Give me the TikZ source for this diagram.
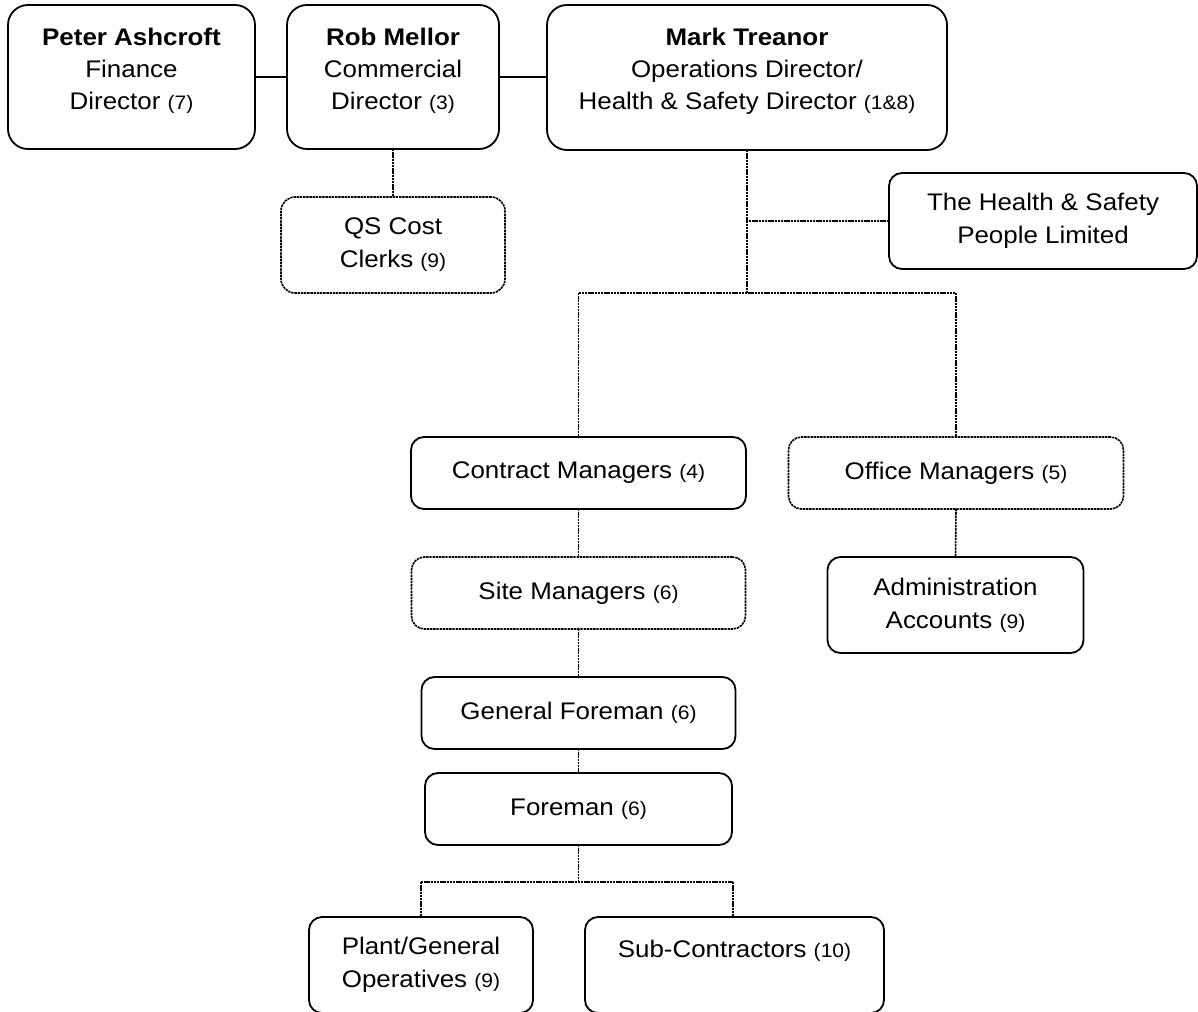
\documentclass[tikz,border=0pt]{standalone}
\usepackage{fontspec}
\setmainfont{Liberation Sans}[FakeStretch=1.08]
\newcommand{\pn}[1]{{\fontsize{19.5}{33}\selectfont #1}}
\begin{document}
\begin{tikzpicture}[x=1pt,y=-1pt,
  box/.style={draw, rounded corners=13pt, line width=1.8pt, inner sep=0pt, outer sep=0pt},
  bigbox/.style={box, rounded corners=20pt},
  dbox/.style={box, dash pattern=on 2.4pt off 0.8pt, line width=1.6pt},
  txt/.style={align=center, inner sep=0pt, font=\fontsize{24}{33}\selectfont},
  ttxt/.style={align=center, inner sep=0pt, font=\fontsize{24}{32}\selectfont},
  link/.style={line width=1.5pt},
  dlink/.style={line width=1.6pt, dash pattern=on 2.4pt off 0.8pt}]
\useasboundingbox (0,0) rectangle (1198,1011);

% directors
\node[bigbox, minimum width=247pt, minimum height=144pt] (peter) at (131.5,77) {};
\node[ttxt] (peterT) at (131.5,71) {\textbf{Peter Ashcroft}\\Finance\\Director \pn{(7)}};
\node[bigbox, minimum width=212pt, minimum height=144pt] (rob) at (393,77) {};
\node[ttxt] (robT) at (393,71) {\textbf{Rob Mellor}\\Commercial\\Director \pn{(3)}};
\node[bigbox, minimum width=400pt, minimum height=145pt] (mark) at (747,77.5) {};
\node[ttxt] (markT) at (747,71) {\textbf{Mark Treanor}\\Operations Director/\\Health \& Safety Director \pn{(1\&8)}};

% second level
\node[dbox, txt, rounded corners=14pt, minimum width=224pt, minimum height=96pt] (qs) at (393,245) {QS Cost\\Clerks \pn{(9)}};
\node[box, txt, minimum width=308pt, minimum height=96pt] (hs) at (1043,221) {The Health \& Safety\\People Limited};

% managers
\node[box, txt, minimum width=335pt, minimum height=72pt] (cm) at (578.5,473) {Contract Managers \pn{(4)}};
\node[dbox, txt, minimum width=335pt, minimum height=72pt] (om) at (956,473) {Office Managers \pn{(5)}};
\node[dbox, txt, minimum width=334pt, minimum height=72pt] (sm) at (578.5,593) {Site Managers \pn{(6)}};
\node[box, txt, minimum width=256pt, minimum height=96pt] (aa) at (955.5,605) {Administration\\Accounts \pn{(9)}};
\node[box, txt, minimum width=314pt, minimum height=72pt] (gf) at (578.5,713) {General Foreman \pn{(6)}};
\node[box, txt, minimum width=307pt, minimum height=72pt] (fm) at (578.5,809) {Foreman \pn{(6)}};
\node[box, txt, minimum width=224pt, minimum height=96pt] (pg) at (421,965) {Plant/General\\Operatives \pn{(9)}};
\node[box, minimum width=299pt, minimum height=96pt] (sc) at (734.5,965) {};
\node[txt] (scT) at (734.5,951) {Sub-Contractors \pn{(10)}};

% junctions
\coordinate (j1) at (747,293);
\coordinate (jl) at (578.5,293);
\coordinate (jr) at (956,293);
\coordinate (j2) at (578.5,882);
\coordinate (j2l) at (421,882);
\coordinate (j2r) at (733,882);

% connectors
\draw[link] (peter.east) -- (rob.west);
\draw[link] (rob.east) -- (mark.west |- rob.east);
\draw[dlink] (rob.south) -- (qs.north);
\draw[dlink] (mark.south) -- (j1);
\draw[dlink] (hs.west) -- (hs.west -| mark.south);
\draw[dlink] (jl) -- (jr);
\draw[dlink] (jl) -- (cm.north);
\draw[dlink] (jr) -- (om.north);
\draw[dlink] (cm.south) -- (sm.north);
\draw[dlink] (sm.south) -- (gf.north);
\draw[dlink] (gf.south) -- (fm.north);
\draw[dlink] (fm.south) -- (j2);
\draw[dlink] (j2l) -- (j2r);
\draw[dlink] (j2l) -- (pg.north);
\draw[dlink] (j2r) -- (j2r |- sc.north);
\draw[dlink] (om.south) -- (aa.north);
\end{tikzpicture}
\end{document}
